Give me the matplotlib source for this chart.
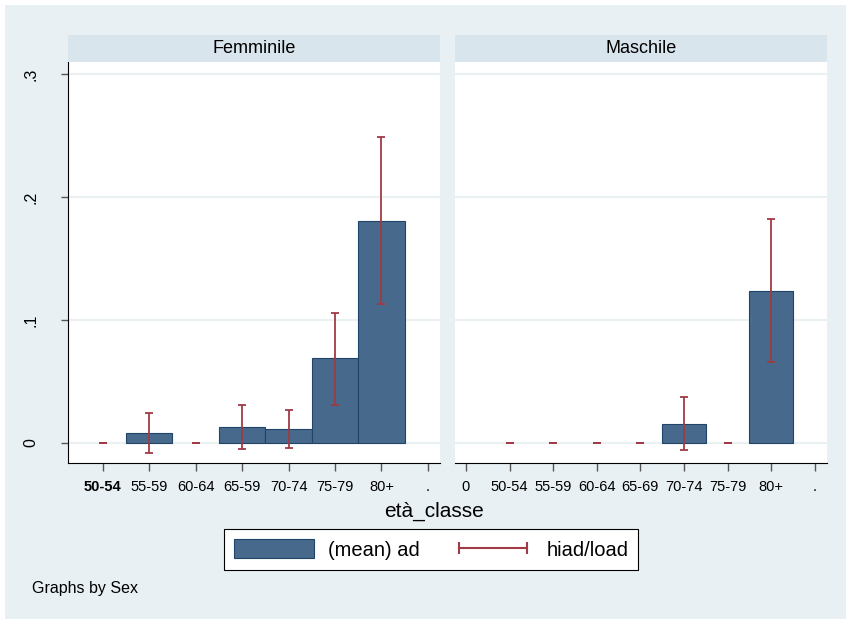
import numpy as np
import matplotlib.pyplot as plt
from matplotlib.patches import Rectangle, Patch
from matplotlib.lines import Line2D

plt.rcParams['font.family'] = ['Liberation Sans', 'DejaVu Sans']

# ==========================================
# DATA
# ==========================================
f_labels = ['50-54', '55-59', '60-64', '65-59', '70-74', '75-79', '80+', '.']
f_mean = [0.0, 0.008, 0.0, 0.013, 0.011, 0.069, 0.181, np.nan]
f_hi   = [0.0, 0.024, 0.0, 0.031, 0.027, 0.106, 0.249, np.nan]
f_lo   = [0.0, -0.008, 0.0, -0.005, -0.004, 0.031, 0.113, np.nan]

m_labels = ['0', '50-54', '55-59', '60-64', '65-69', '70-74', '75-79', '80+', '.']
m_mean = [np.nan, 0.0, 0.0, 0.0, 0.0, 0.0155, 0.0, 0.124, np.nan]
m_hi   = [np.nan, 0.0, 0.0, 0.0, 0.0, 0.037, 0.0, 0.182, np.nan]
m_lo   = [np.nan, 0.0, 0.0, 0.0, 0.0, -0.006, 0.0, 0.066, np.nan]

panel_titles = ['Femminile', 'Maschile']
y_ticks = [0, 0.1, 0.2, 0.3]
y_ticklabels = ['0', '.1', '.2', '.3']

# ==========================================
# STYLE
# ==========================================
W, H = 846, 619
bg = '#e8f0f3'
strip_col = '#d9e5ec'
bar_col = '#476a8c'
bar_edge = '#1f4468'
err_col = '#a03a44'
grid_col = '#eaf1f3'
tick_col = '#555555'

fig = plt.figure(figsize=(W / 100, H / 100), dpi=100)
fig.patch.set_facecolor('white')
fig.patches.append(Rectangle((5 / W, 0), 1, 1 - 5 / H, transform=fig.transFigure,
                             facecolor=bg, edgecolor='none', zorder=-10))


def px(x0, y0, x1, y1):
    # pixel box (top-left origin) -> figure fraction rect
    return [x0 / W, 1 - y1 / H, (x1 - x0) / W, (y1 - y0) / H]


panels = [
    (f_labels, f_mean, f_lo, f_hi, 68, 440, (-0.75, 7.26), True),
    (m_labels, m_mean, m_lo, m_hi, 455, 827, (-0.25, 8.28), False),
]

for i, (labels, mean, lo, hi, x0, x1, xlim, show_y) in enumerate(panels):
    ax = fig.add_axes(px(x0, 62, x1, 463))
    ax.set_facecolor('white')
    x = np.arange(len(labels))
    mean = np.array(mean)
    lo = np.array(lo)
    hi = np.array(hi)

    for y in y_ticks:
        ax.axhline(y, color=grid_col, lw=1.5, zorder=0)

    ok = ~np.isnan(mean)
    pos = ok & (np.nan_to_num(mean) > 0)
    ax.bar(x[pos], mean[pos], width=1.0, color=bar_col, edgecolor=bar_edge,
           linewidth=0.8, zorder=2)
    ax.errorbar(x[ok], mean[ok], yerr=[mean[ok] - lo[ok], hi[ok] - mean[ok]],
                fmt='none', ecolor=err_col, elinewidth=1.3, capsize=3,
                capthick=1.3, zorder=3)

    ax.set_xlim(*xlim)
    ax.set_ylim(-0.0163, 0.31)
    ax.set_xticks(x)
    ax.set_xticklabels(labels, fontsize=10.5)
    ax.tick_params(axis='x', length=6, color=tick_col, width=1, pad=6)
    for sp in ['top', 'right']:
        ax.spines[sp].set_visible(False)
    ax.spines['bottom'].set_color('black')

    if show_y:
        ax.set_yticks(y_ticks)
        ax.set_yticklabels(y_ticklabels, fontsize=11.5, rotation=90, va='center')
        ax.tick_params(axis='y', length=5, color=tick_col, width=1, pad=16)
        ax.spines['left'].set_color('black')
        ax.get_xticklabels()[0].set_fontweight('bold')
    else:
        ax.set_yticks([])
        ax.spines['left'].set_visible(False)

    # panel strip
    sax = fig.add_axes(px(x0, 35, x1, 62))
    sax.set_facecolor(strip_col)
    sax.set_xticks([])
    sax.set_yticks([])
    for sp in sax.spines.values():
        sp.set_visible(False)
    sax.text(0.5, 0.5, panel_titles[i], ha='center', va='center', fontsize=13,
             transform=sax.transAxes)

fig.text(434 / W, 1 - 511 / H, 'età_classe', ha='center', va='center', fontsize=15)

handles = [Patch(facecolor=bar_col, edgecolor=bar_edge, linewidth=0.8),
           Line2D([0], [0], color=err_col, lw=1.5, marker='|', markersize=9,
                  markeredgewidth=1.5)]
leg = fig.legend(handles, ['(mean) ad', 'hiad/load'], loc='center',
                 bbox_to_anchor=(431 / W, 1 - 549.5 / H), ncol=2, fontsize=14.5,
                 frameon=True, fancybox=False, edgecolor='black', framealpha=1,
                 handlelength=4.0, handleheight=1.05, columnspacing=1.65,
                 borderpad=0.5, handletextpad=0.65, numpoints=2)
leg.get_frame().set_linewidth(0.8)

fig.text(32 / W, 1 - 589 / H, 'Graphs by Sex', ha='left', va='center', fontsize=11.5)

fig.savefig('out.png', dpi=100, facecolor=fig.get_facecolor())
